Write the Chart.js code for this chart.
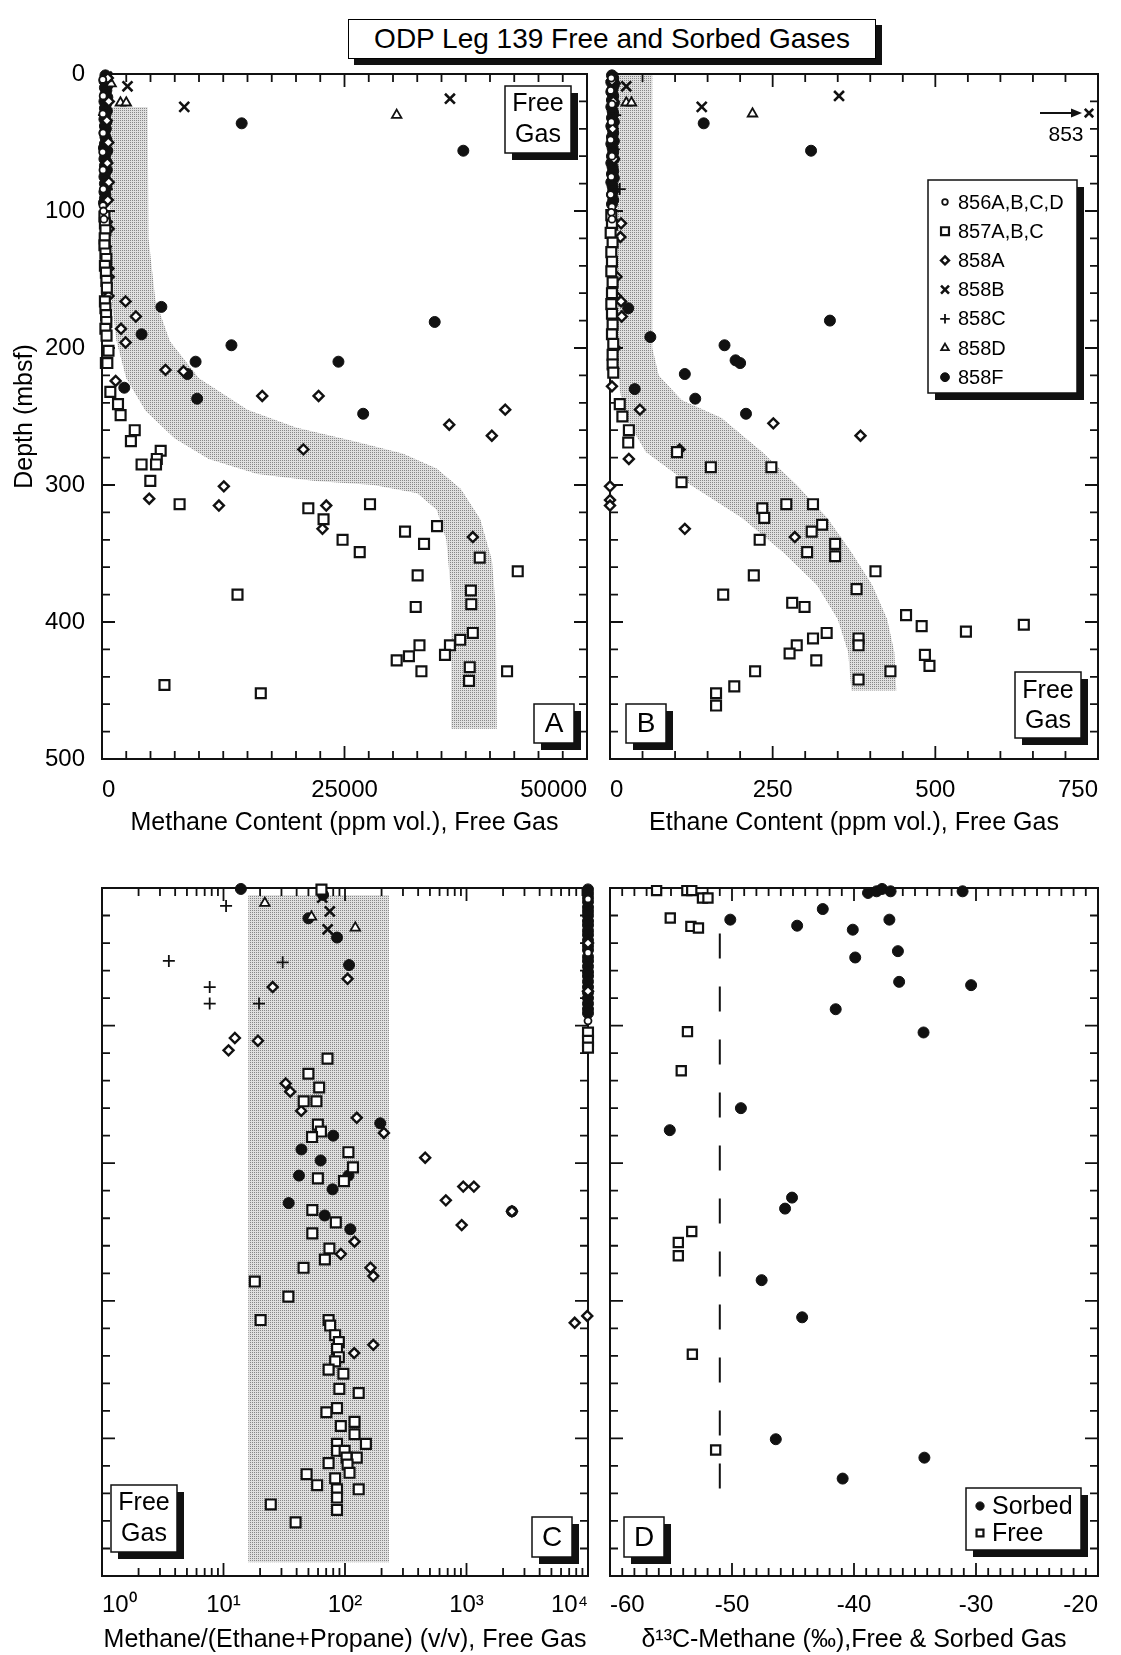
<!DOCTYPE html>
<html>
<head>
<meta charset="utf-8">
<script src="https://cdn.jsdelivr.net/npm/chart.js@4.4.1/dist/chart.umd.min.js"></script>
<style>
  body { margin: 0; background: #fff; }
  #page { position: relative; width: 1121px; height: 1655px; overflow: hidden; font-family: "Liberation Sans", Arial, sans-serif; }
  canvas { position: absolute; }
  #title { position: absolute; left: 348px; top: 19px; width: 526px; height: 38px; border: 1.5px solid #000;
           background: #fff; box-shadow: 6px 6px 0 #111; font-size: 28px; line-height: 38px; text-align: center; color: #000; }
</style>
</head>
<body>
<div id="page">
  <div id="title">ODP Leg 139 Free and Sorbed Gases</div>
  <canvas id="cA" width="600" height="790" style="left:0;top:60px;width:600px;height:790px"></canvas>
  <canvas id="cB" width="521" height="790" style="left:600px;top:60px;width:521px;height:790px"></canvas>
  <canvas id="cC" width="600" height="785" style="left:0;top:870px;width:600px;height:785px"></canvas>
  <canvas id="cD" width="521" height="785" style="left:600px;top:870px;width:521px;height:785px"></canvas>
</div>
<script>
'use strict';

// ---- series (sites) ----
const seriesNames = ['856A,B,C,D', '857A,B,C', '858A', '858B', '858C', '858D', '858F'];

// ---- A: methane content (ppm vol.) vs depth (mbsf), [x, depth]
const A_856 = [[80,4],[120,16],[90,29],[110,43],[70,57],[100,70],[130,84],[100,96],[150,100],[200,106]];
const A_857 = [[250,104],[300,109],[350,114],[280,120],[250,125],[350,131],[450,135],[300,140],[400,145],[450,151],
  [500,156],[300,166],[350,171],[420,176],[450,181],[350,186],[470,191],[670,202],[400,211],[550,211],[860,232],
  [1650,241],[1920,249],[3375,260],[2980,268],[6050,275],[5650,281],[4080,285],[5570,285],[4980,297],[8000,314],
  [21270,317],[27630,314],[22840,325],[31240,334],[34540,330],[24800,340],[33200,343],[26570,349],[38940,353],
  [32540,366],[42860,363],[13970,380],[38030,377],[38070,387],[32340,389],[38230,408],[36930,413],[35870,417],
  [32730,417],[35360,424],[31640,425],[30380,428],[37910,433],[32930,436],[41760,436],[37840,443],[6440,446],[16370,452]];
const A_858A = [[600,3],[700,20],[500,34],[650,50],[550,65],[700,79],[600,92],[500,108],[700,113],[400,126],[670,142],
  [700,148],[670,162],[2430,166],[3490,177],[1960,186],[2430,196],[1410,224],[6550,216],[8400,217],[16520,235],
  [22330,235],[41570,245],[35800,256],[40190,264],[20760,274],[12560,301],[4870,310],[12050,315],[23120,315],
  [22730,332],[38230,338]];
const A_858B = [[500,2],[2630,9],[35870,18],[8480,24]];
const A_858C = [[200,30],[350,52],[500,84]];
const A_858D = [[940,7],[1900,21],[2500,21],[30380,30]];
const A_858F = [[350,1],[500,3],[250,5],[600,8],[300,10],[450,12],[350,15],[550,17],[250,20],[400,22],[300,25],
  [500,27],[350,30],[250,33],[450,35],[300,38],[400,40],[250,43],[350,46],[450,48],[300,51],[200,54],[550,56],
  [350,59],[250,62],[450,64],[300,67],[500,70],[350,72],[250,75],[400,78],[300,80],[450,83],[250,86],[350,88],
  [300,91],[200,94],[14400,36],[37250,56],[6120,170],[34300,181],[4080,190],[13345,198],[9650,210],[24375,210],
  [8800,219],[2300,229],[9810,237],[26925,248]];
const A_band = [[700,24],[4700,24],[4800,120],[5500,165],[7000,195],[10000,222],[15000,245],[20000,258],[26000,268],
  [31000,277],[34500,288],[37000,303],[39000,325],[40200,355],[40600,390],[40700,478],[36000,478],[36000,380],
  [35500,340],[34500,318],[32500,306],[28000,300],[22000,297],[16000,292],[11000,281],[7500,266],[4500,246],
  [2500,222],[1500,195],[900,160]];

// ---- B: ethane content (ppm vol.)
const B_856 = [[2,3],[1,12],[3,22],[2,35],[1,48],[3,60],[2,75],[1,88],[3,97],[2,101],[3,106]];
const B_857 = [[2,103],[3,110],[1,116],[4,123],[2,130],[3,137],[2,144],[4,152],[3,160],[2,168],[3,175],[4,183],
  [3,190],[5,197],[4,205],[4,212],[5,218],[15,241],[19,250],[29,260],[28,269],[103,276],[155,287],[248,287],
  [110,298],[234,317],[237,324],[271,314],[312,314],[310,334],[326,329],[230,340],[303,349],[346,343],[346,352],
  [408,363],[221,366],[379,376],[174,380],[280,386],[299,389],[455,395],[479,403],[547,407],[636,402],[333,408],
  [312,412],[382,412],[382,417],[287,417],[276,423],[317,428],[484,424],[491,432],[223,436],[431,436],[382,442],
  [191,447],[163,452],[163,461]];
const B_858A = [[3,5],[5,20],[4,40],[6,62],[17,109],[16,119],[10,148],[9,162],[17,166],[18,177],[8,200],[5,215],
  [3,228],[46,245],[251,255],[385,264],[107,274],[29,281],[0,301],[0,311],[0,315],[115,332],[284,338]];
const B_858B = [[5,3],[25,9],[352,16],[141,24]];
const B_858C = [[8,30],[6,55],[15,84]];
const B_858D = [[8,5],[25,21],[33,21],[219,29]];
const B_858F = [[3,1],[5,3],[2,6],[6,8],[4,11],[2,13],[5,16],[3,19],[6,21],[2,24],[4,27],[5,29],[3,32],[6,35],
  [2,38],[4,40],[5,43],[3,46],[6,49],[2,51],[4,54],[5,57],[3,60],[6,62],[2,65],[4,68],[5,71],[3,73],[6,76],[2,79],
  [4,82],[5,85],[3,88],[5,92],[3,95],[144,36],[309,56],[28,171],[338,180],[62,192],[176,198],[193,209],[200,211],
  [115,219],[38,230],[131,237],[209,248]];
const B_offscale = [[853, 28.5]];   // 858B sample beyond the axis, drawn as arrow
const B_band = [[11,0],[65,0],[65,200],[75,220],[110,238],[171,251],[234,276],[287,300],[334,324],[371,349],
  [403,373],[426,398],[437,422],[440,450],[371,450],[366,422],[350,398],[318,373],[266,349],[203,324],[124,300],
  [55,276],[24,251],[15,231],[11,200]];

// ---- C: methane/(ethane+propane), log
const C_856 = [[10000,8],[10000,47],[10000,96.5]];
const C_857 = [[64,1.2],[71.8,124],[50,135],[61.3,145],[45.7,155],[58.2,155],[59.8,172],[63.4,177],[53.5,181],
  [106.7,192],[116.4,203],[59.8,211],[98,213],[53.8,234],[84,243],[53.8,251],[74.4,262],[68.3,270],[45.6,276],
  [18.1,286],[34.2,297],[20.2,314],[73.3,314],[75.5,318],[83,325],[89,330],[86,335],[89,341],[83,344],[73.3,350],
  [97,353],[89.8,364],[129.7,367],[86,378],[70.3,381],[92.4,391],[119.8,388],[119.8,397],[86,404],[148.6,404],
  [86,409],[99.3,409],[103,414],[125,414],[73.3,418],[105,419],[109,425],[48.3,426],[83,429],[59,434],[86,437],
  [129.7,437],[86,443],[24.5,448],[86,452],[39.2,461],[10000,105],[10000,111],[10000,116]];
const C_858A = [[105,66],[25.4,72],[12.4,109],[19.2,111],[11,118],[32.5,142],[35.4,148],[43.6,162],[125,167],
  [209,178],[457,196],[940,217],[1150,217],[676,227],[2366,235],[913,245],[119.8,257],[92.4,266],[162,276],
  [171,282],[171,332],[119,338],[7770,316],[9860,311],[10000,40],[10000,75]];
const C_858B = [[65,7],[75,17],[72,30]];
const C_858C = [[10.5,13],[3.55,53],[30.7,54],[7.7,72],[7.7,84],[19.6,84]];
const C_858D = [[21.9,11],[53,21],[121.6,29]];
const C_858F = [[13.9,0.7],[66,5],[50,22],[86,36],[108,56],[195,171],[80,180],[43.8,190],[63,198],[41.8,209],
  [106.7,209],[79,219],[34.4,229],[68,238],[110.6,248],[2366,235],[10000,1],[10000,4],[10000,7],[10000,10],
  [10000,14],[10000,17],[10000,20],[10000,24],[10000,27],[10000,31],[10000,34],[10000,38],[10000,42],[10000,45],
  [10000,50],[10000,53],[10000,57],[10000,61],[10000,64],[10000,68],[10000,72],[10000,76],[10000,80],[10000,84],
  [10000,88],[10000,91]];
const C_band = [[16,5],[230,5],[230,490],[16,490]];

// ---- D: delta13C methane (permil)
const D_sorbed = [[-38.85,3.6],[-38.15,2.4],[-37.7,0.7],[-37.0,2.4],[-31.1,2.4],[-42.56,15.3],[-50.14,23],[-37.1,23],
  [-44.66,27.4],[-40.1,30.3],[-36.4,45.9],[-39.9,50.5],[-36.3,68.2],[-30.4,70.6],[-41.5,88.1],[-34.3,105],
  [-49.27,160],[-55.1,176],[-45.08,225],[-45.65,233],[-47.57,285],[-44.25,312],[-46.41,400.6],[-34.23,414],[-40.93,429.2]];
const D_free = [[-56.18,1.9],[-53.7,1.9],[-53.3,1.9],[-52.42,7.3],[-51.97,7.3],[-55.06,21.8],[-53.37,27.9],
  [-52.75,29.1],[-53.65,104.4],[-54.16,132.8],[-53.3,249.6],[-54.4,257.6],[-54.4,267.3],[-53.25,338.8],[-51.34,408.4]];
const D_ref = [[-51,33],[-51,442]];

// ---------- look ----------
const INK = '#111';
const FONT = "'Liberation Sans', Arial, Helvetica, sans-serif";
Chart.defaults.font.family = FONT;
Chart.defaults.color = '#000';

const looks = [
  {style: 'circle',   r: 3.5, fill: '#fff', lw: 1.8},
  {style: 'rect',     r: 7,   fill: '#fff', lw: 2.2},
  {style: 'rectRot',  r: 5,   fill: '#fff', lw: 2.4},
  {style: 'crossRot', r: 7,   fill: INK,    lw: 2.6},
  {style: 'cross',    r: 6,   fill: INK,    lw: 1.8},
  {style: 'triangle', r: 5.5, fill: '#fff', lw: 1.8},
  {style: 'circle',   r: 5.5, fill: INK,    lw: 1}
];

const tile = document.createElement('canvas');
tile.width = 2; tile.height = 2;
(function() {
  const g = tile.getContext('2d');
  g.fillStyle = '#e0e0e0'; g.fillRect(0, 0, 2, 2);
  g.fillStyle = '#888'; g.fillRect(0, 0, 1, 1);
})();

function mark(ctx, look, x, y, k) {
  const r = look.r * k;
  ctx.beginPath();
  if (look.style === 'circle') ctx.arc(x, y, r, 0, Math.PI * 2);
  else if (look.style === 'rect') { const s = r * Math.SQRT1_2; ctx.rect(x - s, y - s, 2 * s, 2 * s); }
  else if (look.style === 'rectRot') { ctx.moveTo(x, y - r); ctx.lineTo(x + r, y); ctx.lineTo(x, y + r); ctx.lineTo(x - r, y); ctx.closePath(); }
  else if (look.style === 'crossRot') { const c = r * Math.SQRT1_2; ctx.moveTo(x - c, y - c); ctx.lineTo(x + c, y + c); ctx.moveTo(x - c, y + c); ctx.lineTo(x + c, y - c); }
  else if (look.style === 'cross') { ctx.moveTo(x, y - r); ctx.lineTo(x, y + r); ctx.moveTo(x - r, y); ctx.lineTo(x + r, y); }
  else if (look.style === 'triangle') { ctx.moveTo(x, y - r); ctx.lineTo(x + r * 0.87, y + r * 0.5); ctx.lineTo(x - r * 0.87, y + r * 0.5); ctx.closePath(); }
  ctx.lineWidth = look.lw;
  ctx.strokeStyle = INK;
  ctx.fillStyle = look.fill;
  if (look.style !== 'crossRot' && look.style !== 'cross') ctx.fill();
  ctx.stroke();
}

function shadowBox(ctx, x, y, w, h) {
  ctx.fillStyle = INK;
  ctx.fillRect(x + 7, y + 7, w, h);
  ctx.fillStyle = '#fff';
  ctx.fillRect(x, y, w, h);
  ctx.lineWidth = 1.5;
  ctx.strokeStyle = INK;
  ctx.strokeRect(x, y, w, h);
}

// frame, inward ticks, stippled band, label boxes
const decor = {
  id: 'decor',
  beforeDatasetsDraw(chart, args, o) {
    const {ctx, chartArea: a} = chart;
    const xs = chart.scales.x, ys = chart.scales.y;
    chart.data.datasets.forEach((ds, i) => {
      if (!ds.band) return;
      const pts = chart.getDatasetMeta(i).data;
      ctx.save();
      ctx.beginPath();
      pts.forEach((p, k) => k ? ctx.lineTo(p.x, p.y) : ctx.moveTo(p.x, p.y));
      ctx.closePath();
      ctx.fillStyle = ctx.createPattern(tile, 'repeat');
      ctx.fill();
      ctx.restore();
    });
    ctx.save();
    ctx.strokeStyle = INK;
    ctx.lineWidth = 2;
    ctx.strokeRect(a.left, a.top, a.right - a.left, a.bottom - a.top);
    ctx.lineWidth = 1.8;
    ctx.beginPath();
    o.xTicks.forEach(([v, major]) => {
      const p = xs.getPixelForValue(v), L = major ? 13 : 8;
      ctx.moveTo(p, a.bottom); ctx.lineTo(p, a.bottom - L);
      ctx.moveTo(p, a.top); ctx.lineTo(p, a.top + L);
    });
    o.yTicks.forEach(([v, major]) => {
      const p = ys.getPixelForValue(v), L = major ? 13 : 8;
      ctx.moveTo(a.left, p); ctx.lineTo(a.left + L, p);
      ctx.moveTo(a.right, p); ctx.lineTo(a.right - L, p);
    });
    ctx.stroke();
    ctx.restore();
  },
  afterDraw(chart, args, o) {
    const {ctx, chartArea: a} = chart;
    const ys = chart.scales.y;
    ctx.save();
    ctx.textAlign = 'center';
    ctx.textBaseline = 'middle';
    (o.boxes || []).forEach(b => {
      const x = b.x - o.ox, y = b.y - o.oy;
      shadowBox(ctx, x, y, b.w, b.h);
      ctx.fillStyle = '#000';
      ctx.font = b.size + 'px ' + FONT;
      b.lines.forEach((t, k) => ctx.fillText(t, x + b.w / 2, y + b.first + k * b.step));
    });
    if (o.legend) {
      const L = o.legend;
      const x = L.x - o.ox, y = L.y - o.oy;
      shadowBox(ctx, x, y, L.w, L.h);
      ctx.textAlign = 'left';
      L.names.forEach((t, k) => {
        const yy = y + L.first + k * L.step;
        mark(ctx, L.looks[k], x + L.mx, yy, L.k);
        ctx.fillStyle = '#000';
        ctx.font = L.size + 'px ' + FONT;
        ctx.fillText(t, x + L.tx, yy + 1);
      });
    }
    if (o.arrow) {
      o.arrow.forEach(([val, depth]) => {
        const yy = ys.getPixelForValue(depth);
        ctx.strokeStyle = INK; ctx.fillStyle = INK; ctx.lineWidth = 2;
        ctx.beginPath(); ctx.moveTo(a.right - 58, yy); ctx.lineTo(a.right - 22, yy); ctx.stroke();
        ctx.beginPath(); ctx.moveTo(a.right - 16, yy); ctx.lineTo(a.right - 27, yy - 4.5); ctx.lineTo(a.right - 27, yy + 4.5); ctx.closePath(); ctx.fill();
        mark(ctx, looks[3], a.right - 9, yy, 0.85);
        ctx.fillStyle = '#000';
        ctx.textAlign = 'center';
        ctx.font = '21px ' + FONT;
        ctx.fillText(String(val), a.right - 32, yy + 22);
      });
    }
    ctx.restore();
  }
};

function linTicks(min, max, step, major) {
  const out = [];
  const n = Math.round((max - min) / step);
  for (let k = 0; k <= n; k++) {
    const v = min + k * step;
    out.push([v, Math.abs(Math.round(v / major) * major - v) < 1e-6]);
  }
  return out;
}
function logTicks(decades) {
  const out = [];
  for (let d = 0; d < decades; d++) {
    for (let m = 1; m <= 9; m++) out.push([m * Math.pow(10, d), m === 1]);
  }
  out.push([Math.pow(10, decades), true]);
  return out;
}
const depthTicks = linTicks(0, 500, 20, 100);

function seriesSets(list, lk) {
  return list.map((data, i) => ({
    label: seriesNames[i] || '', data,
    pointStyle: lk[i].style, pointRadius: lk[i].r, pointBorderWidth: lk[i].lw,
    pointBackgroundColor: lk[i].fill, pointBorderColor: INK, showLine: false, clip: false, order: 1
  }));
}

function panel(id, cfg) {
  const sets = cfg.sets.slice();
  if (cfg.band) sets.push({label: 'band', band: true, data: cfg.band, pointRadius: 0, showLine: false, order: 10});
  const xAxis = Object.assign({
    position: 'bottom',
    grid: {display: false, drawTicks: false},
    border: {display: false},
    title: {display: true, text: cfg.xTitle, font: {size: 25}, padding: {top: 0, bottom: cfg.titlePad}},
    afterFit(s) { s.height = cfg.xHeight; s.paddingLeft = 0; s.paddingRight = 0; }
  }, cfg.x);
  xAxis.ticks = Object.assign({align: 'inner', padding: cfg.tickPad, font: {size: 24}, maxRotation: 0, autoSkip: false,
    callback: v => String(v)}, cfg.x.ticks || {});
  const yAxis = {
    type: 'linear', min: 0, max: 500, reverse: true, display: !!cfg.yTitle,
    grid: {display: false, drawTicks: false},
    border: {display: false},
    ticks: {stepSize: 100, padding: 17, font: {size: 24}},
    title: {display: !!cfg.yTitle, text: cfg.yTitle || '', font: {size: 25}, padding: {top: 10}},
    afterFit(s) { s.width = cfg.yTitle ? 102 : 0; s.paddingTop = 0; s.paddingBottom = 0; }
  };
  return new Chart(document.getElementById(id), {
    type: 'scatter',
    data: {datasets: sets},
    options: {
      responsive: false,
      animation: false,
      events: [],
      layout: {padding: cfg.pad},
      scales: {x: xAxis, y: yAxis},
      plugins: {
        legend: {display: false},
        tooltip: {enabled: false},
        decor: Object.assign({xTicks: cfg.xTicks, yTicks: depthTicks}, cfg.decor)
      }
    },
    plugins: [decor]
  });
}

const sup = ['\u2070', '\u00b9', '\u00b2', '\u00b3', '\u2074'];

panel('cA', {
  sets: seriesSets([A_856, A_857, A_858A, A_858B, A_858C, A_858D, A_858F], looks),
  band: A_band,
  x: {type: 'linear', min: 0, max: 50000, ticks: {stepSize: 25000}},
  xTicks: linTicks(0, 50000, 2500, 25000),
  xTitle: 'Methane Content (ppm vol.), Free Gas',
  yTitle: 'Depth (mbsf)',
  pad: {left: 0, top: 14, right: 13, bottom: 0},
  xHeight: 91, tickPad: 17, titlePad: 12,
  decor: {ox: 0, oy: 60, boxes: [
    {x: 505, y: 86, w: 66, h: 67, size: 25, lines: ['Free', 'Gas'], first: 18, step: 31},
    {x: 534, y: 704, w: 40, h: 39, size: 28, lines: ['A'], first: 20, step: 0}
  ]}
});

panel('cB', {
  sets: seriesSets([B_856, B_857, B_858A, B_858B, B_858C, B_858D, B_858F], looks),
  band: B_band,
  x: {type: 'linear', min: 0, max: 750, ticks: {stepSize: 250}},
  xTicks: linTicks(0, 750, 50, 250),
  xTitle: 'Ethane Content (ppm vol.), Free Gas',
  pad: {left: 10, top: 14, right: 23, bottom: 0},
  xHeight: 91, tickPad: 17, titlePad: 12,
  decor: {ox: 600, oy: 60, arrow: B_offscale,
    boxes: [
      {x: 1015, y: 672, w: 66, h: 66, size: 25, lines: ['Free', 'Gas'], first: 19, step: 30},
      {x: 626, y: 704, w: 40, h: 39, size: 28, lines: ['B'], first: 20, step: 0}
    ],
    legend: {x: 928, y: 180, w: 149, h: 213, first: 22, step: 29.2, mx: 17, tx: 30, size: 20, k: 0.8,
      names: seriesNames, looks: looks}
  }
});

panel('cC', {
  sets: seriesSets([C_856, C_857, C_858A, C_858B, C_858C, C_858D, C_858F], looks),
  band: C_band,
  x: {type: 'logarithmic', min: 1, max: 10000, ticks: {
    callback: v => {
      const e = Math.round(Math.log10(v));
      return Math.abs(Math.log10(v) - e) < 1e-9 ? '10' + sup[e] : '';
    }}},
  xTicks: logTicks(4),
  xTitle: 'Methane/(Ethane+Propane) (v/v), Free Gas',
  pad: {left: 102, top: 18, right: 12, bottom: 0},
  xHeight: 79, tickPad: 15, titlePad: 0,
  decor: {ox: 0, oy: 870, boxes: [
    {x: 111, y: 1485, w: 66, h: 67, size: 25, lines: ['Free', 'Gas'], first: 18, step: 31},
    {x: 532, y: 1517, w: 40, h: 40, size: 28, lines: ['C'], first: 21, step: 0}
  ]}
});

const dLooks = [
  {style: 'circle', r: 5.5, fill: INK, lw: 1},
  {style: 'rect', r: 6.5, fill: '#fff', lw: 2.2}
];
const dSets = seriesSets([D_sorbed, D_free], dLooks);
dSets[0].label = 'Sorbed';
dSets[1].label = 'Free';
dSets.push({label: 'ref', data: D_ref, showLine: true, pointRadius: 0, borderColor: INK, borderWidth: 2,
  borderDash: [25, 28], order: 5});

panel('cD', {
  sets: dSets,
  x: {type: 'linear', min: -60, max: -20, ticks: {stepSize: 10}},
  xTicks: linTicks(-60, -20, 1, 10),
  xTitle: '\u03b4\u00b9\u00b3C-Methane (\u2030),Free & Sorbed Gas',
  pad: {left: 10, top: 18, right: 23, bottom: 0},
  xHeight: 79, tickPad: 15, titlePad: 0,
  decor: {ox: 600, oy: 870,
    boxes: [{x: 624, y: 1517, w: 40, h: 40, size: 28, lines: ['D'], first: 21, step: 0}],
    legend: {x: 966, y: 1488, w: 115, h: 62, first: 18, step: 27, mx: 14, tx: 26, size: 25, k: 0.75,
      names: ['Sorbed', 'Free'], looks: dLooks}
  }
});
</script>
</body>
</html>
